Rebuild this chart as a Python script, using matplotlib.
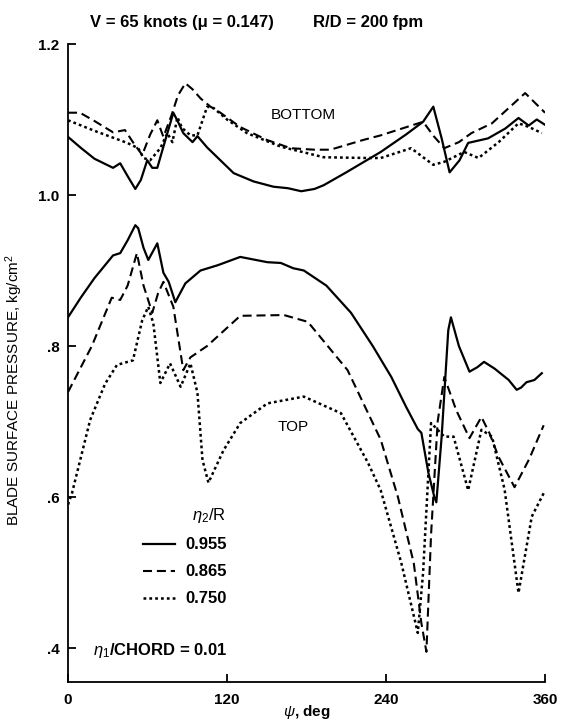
# -*- coding: utf-8 -*-
"""
Blade surface pressure vs azimuth, top and bottom surface
"""

import matplotlib
matplotlib.use('Agg')
import matplotlib.pyplot as plt

# Bottom surface, eta2/R = 0.955 (solid)
psi_sb = [0, 10, 20, 34, 39.4, 45, 50.8, 55, 59.8, 63.6, 67.4, 72, 79.5, 83, 87,
          94, 97.7, 105, 115, 125, 140, 155, 166, 176, 186, 193, 210, 236, 255,
          268, 275.7, 282, 288, 295.5, 302, 317, 330, 340, 347.7, 353.8, 360]
p_sb = [1.077, 1.062, 1.048, 1.036, 1.042, 1.025, 1.008, 1.02, 1.046, 1.036,
        1.036, 1.064, 1.109, 1.097, 1.082, 1.07, 1.078, 1.063, 1.046, 1.029,
        1.018, 1.011, 1.009, 1.005, 1.008, 1.013, 1.030, 1.057, 1.080, 1.097,
        1.117, 1.075, 1.03, 1.046, 1.069, 1.075, 1.088, 1.102, 1.092, 1.100,
        1.093]

# Bottom surface, eta2/R = 0.865 (dashed)
psi_db = [0, 9, 20, 34, 43, 49, 56, 62, 67.4, 72, 78, 83, 88.6, 94, 100, 107.5,
          115, 130, 150, 168, 186, 198, 223, 236, 268, 276, 284, 295, 304.5,
          320, 345, 360]
p_db = [1.109, 1.109, 1.098, 1.083, 1.086, 1.07, 1.053, 1.08, 1.099, 1.077,
        1.105, 1.132, 1.148, 1.14, 1.128, 1.117, 1.109, 1.09, 1.073, 1.062,
        1.06, 1.06, 1.073, 1.079, 1.097, 1.078, 1.062, 1.07, 1.082, 1.095,
        1.135, 1.109]

# Bottom surface, eta2/R = 0.750 (dotted)
psi_tb = [0, 20, 44.7, 53, 57, 62, 69.7, 75, 78.8, 82.6, 86, 92.4, 97.7, 105,
          110, 120, 135, 160.6, 193, 226, 236, 259, 268, 275.7, 284, 299,
          309.8, 325, 340, 348, 357.6]
p_tb = [1.099, 1.085, 1.069, 1.062, 1.049, 1.046, 1.062, 1.082, 1.07, 1.103,
        1.089, 1.079, 1.079, 1.117, 1.115, 1.10, 1.082, 1.064, 1.05, 1.049,
        1.049, 1.062, 1.05, 1.04, 1.044, 1.057, 1.049, 1.07, 1.095, 1.09,
        1.082]

# Top surface, eta2/R = 0.955 (solid)
psi_st = [0, 10, 20, 34, 39.4, 45, 50.8, 53, 57, 60.6, 64, 67.4, 72, 76, 81,
          84, 88.6, 100, 113, 130, 150.5, 160.6, 170, 178, 195, 213.6, 230,
          244, 255, 264, 266.7, 272, 276.5, 278, 282, 287, 289, 295, 303, 309,
          314, 322, 332.6, 338.6, 342, 346, 352, 357.6]
p_st = [0.838, 0.865, 0.89, 0.92, 0.923, 0.94, 0.96, 0.956, 0.93, 0.914,
        0.925, 0.936, 0.897, 0.885, 0.858, 0.868, 0.883, 0.90, 0.907, 0.918,
        0.911, 0.91, 0.903, 0.90, 0.88, 0.844, 0.80, 0.759, 0.72, 0.69, 0.685,
        0.632, 0.60, 0.593, 0.68, 0.821, 0.838, 0.80, 0.766, 0.772, 0.779,
        0.77, 0.755, 0.742, 0.745, 0.752, 0.755, 0.764]

# Top surface, eta2/R = 0.865 (dashed)
psi_dt = [0, 18, 33, 39.4, 45, 52, 57, 63.6, 68, 72, 79.5, 87, 92.4, 105, 130,
          163, 181, 196, 211, 236, 249, 261, 266.7, 270.5, 274, 279, 284, 293,
          303, 312, 318, 325, 337, 348, 359]
p_dt = [0.739, 0.80, 0.864, 0.861, 0.88, 0.923, 0.88, 0.844, 0.87, 0.885,
        0.852, 0.768, 0.785, 0.80, 0.84, 0.841, 0.832, 0.80, 0.768, 0.676,
        0.60, 0.512, 0.433, 0.395, 0.55, 0.70, 0.759, 0.715, 0.678, 0.706,
        0.685, 0.653, 0.613, 0.65, 0.695]

# Top surface, eta2/R = 0.750 (dotted)
psi_tt = [0, 3, 16.7, 28, 37, 49, 56, 60.6, 64.4, 69.7, 77, 85, 92.4, 97.7,
          101.5, 106, 117.4, 130, 150.5, 178, 206, 226.5, 236, 251.5, 264, 268,
          274, 284, 291, 302, 312, 320, 329.5, 340, 350, 359]
p_tt = [0.59, 0.605, 0.702, 0.75, 0.775, 0.781, 0.834, 0.852, 0.83, 0.751,
        0.777, 0.746, 0.777, 0.738, 0.649, 0.619, 0.662, 0.698, 0.724, 0.733,
        0.711, 0.645, 0.609, 0.513, 0.42, 0.50, 0.698, 0.68, 0.68, 0.609,
        0.689, 0.68, 0.61, 0.473, 0.574, 0.605]

radii = ['0.955', '0.865', '0.750']
x_ticks = [0, 120, 240, 360]
y_ticks = [0.4, 0.6, 0.8, 1.0, 1.2]
y_tick_labels = ['.4', '.6', '.8', '1.0', '1.2']

plt.rcParams['font.family'] = ['Liberation Sans', 'DejaVu Sans']
plt.rcParams['mathtext.fontset'] = 'custom'
plt.rcParams['mathtext.rm'] = 'Liberation Sans'
plt.rcParams['mathtext.it'] = 'Liberation Sans:italic'
plt.rcParams['mathtext.bf'] = 'Liberation Sans:bold'
plt.rcParams['lines.scale_dashes'] = False

styles = [dict(linestyle='-', linewidth=1.6),
          dict(linestyle=(0, (6.5, 3.5)), linewidth=1.5),
          dict(linestyle=(0, (2, 2.2)), linewidth=1.8)]

fig = plt.figure(figsize=(5.61, 7.26), dpi=100)
ax = fig.add_axes([68 / 561, 1 - 682 / 726, 477 / 561, 638 / 726])

# bottom surface
ax.plot(psi_sb, p_sb, color='k', **styles[0], label=radii[0])
ax.plot(psi_db, p_db, color='k', **styles[1], label=radii[1])
ax.plot(psi_tb, p_tb, color='k', **styles[2], label=radii[2])

# top surface
ax.plot(psi_st, p_st, color='k', **styles[0])
ax.plot(psi_dt, p_dt, color='k', **styles[1])
ax.plot(psi_tt, p_tt, color='k', **styles[2])

ax.set_xlim(0, 360)
ax.set_ylim(0.355, 1.2)

ax.spines['top'].set_visible(False)
ax.spines['right'].set_visible(False)
ax.spines['left'].set_linewidth(1.3)
ax.spines['bottom'].set_linewidth(1.3)

ax.set_xticks(x_ticks)
ax.set_yticks(y_ticks)
ax.set_yticklabels(y_tick_labels)
ax.tick_params(direction='in', length=6, width=1.3, labelsize=11, pad=6)
ax.tick_params(axis='x', pad=8)
for t in ax.get_xticklabels() + ax.get_yticklabels():
    t.set_fontweight('bold')

ax.set_ylabel('BLADE SURFACE PRESSURE, kg/cm$^2$', fontsize=11)
ax.yaxis.set_label_coords(-0.09, 0.458)
ax.set_xlabel(r'$\psi$, deg', fontsize=11, fontweight='bold')
ax.xaxis.set_label_coords(0.5, -0.033)

ax.text(153, 1.106, 'BOTTOM', fontsize=11, va='center')
ax.text(158, 0.693, 'TOP', fontsize=11, va='center')

fig.text(90 / 561, 1 - 27 / 726, 'V = 65 knots (\u03bc = 0.147)',
         fontsize=12, fontweight='bold')
fig.text(313 / 561, 1 - 27 / 726, 'R/D = 200 fpm',
         fontsize=12, fontweight='bold')

leg = ax.legend(title=r'$\eta_2$/R', loc='upper left',
                bbox_to_anchor=(135 / 561, 1 - 498 / 726),
                bbox_transform=fig.transFigure, frameon=False,
                borderpad=0, handlelength=1.9, handletextpad=0.6,
                labelspacing=0.72, alignment='right',
                prop=dict(size=12, weight='bold'),
                title_fontproperties=dict(size=12))

ax.text(19, 0.397, r'$\eta_1$/CHORD = 0.01', fontsize=12, fontweight='bold',
        va='center')

fig.savefig('out.png', dpi=100)
